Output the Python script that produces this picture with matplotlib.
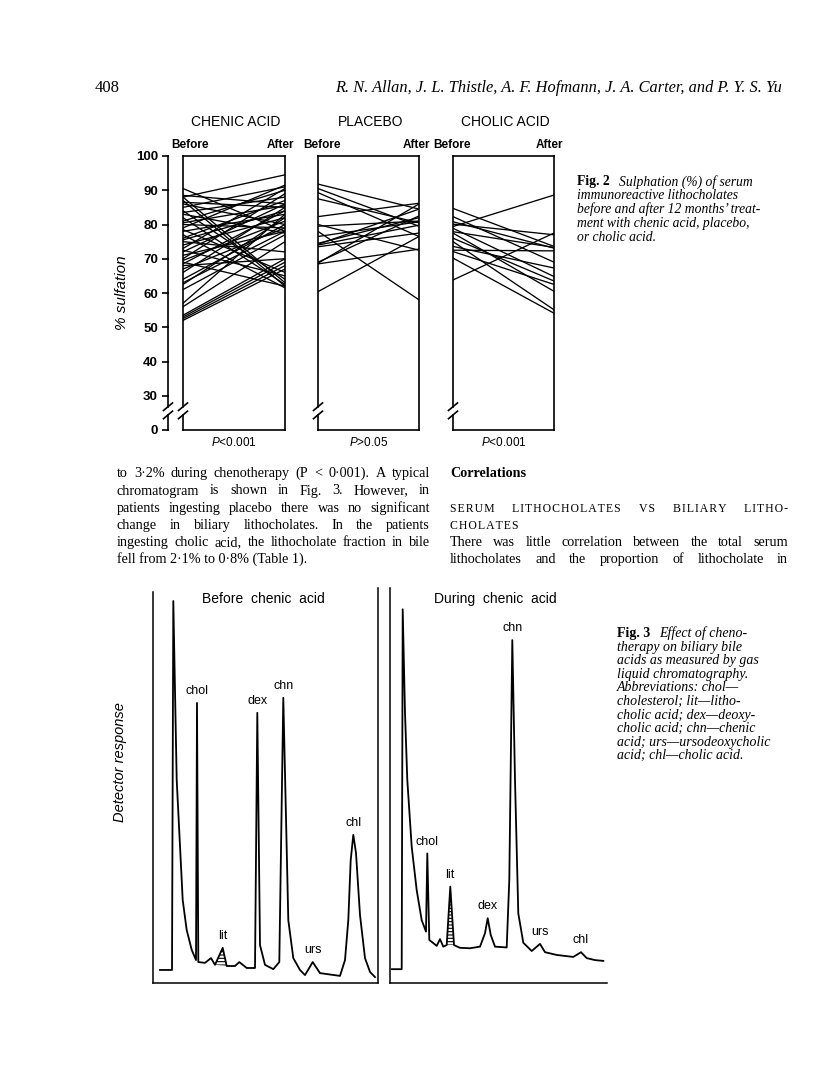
import matplotlib
matplotlib.use('Agg')
import matplotlib.pyplot as plt
import numpy as np

plt.rcParams['font.family'] = ['Liberation Sans', 'DejaVu Sans']
plt.rcParams['mathtext.fontset'] = 'custom'
plt.rcParams['mathtext.it'] = 'Liberation Sans:italic'
plt.rcParams['mathtext.rm'] = 'Liberation Sans'
plt.rcParams['hatch.linewidth'] = 0.8

SERIF = ['Liberation Serif', 'DejaVu Serif']
W, H = 816, 1086

# ---- Fig. 2 data: % sulfation before / after 12 months
groups = ['CHENIC ACID', 'PLACEBO', 'CHOLIC ACID']
p_values = [r'$\mathit{P}$<0.001', r'$\mathit{P}$>0.05', r'$\mathit{P}$<0.001']

chenic_before = [90.5, 88.5, 88, 88, 87, 86.5, 86, 85, 84, 83.5, 83, 82, 81, 80.5, 80,
                 79, 78.5, 78, 77, 76, 75.5, 75, 74, 73, 72.5, 72, 71, 70, 69.5, 69,
                 68.5, 68, 67, 66, 64, 63, 62.5, 61, 57, 56, 53.5, 53, 52.5, 52]
chenic_after = [78, 86, 94.5, 63, 62, 85, 80, 91, 64, 88, 77.5, 62.5, 90, 85.5, 79,
                91.5, 66, 83, 61.5, 87, 84, 72, 82, 90.5, 65, 86, 78, 89, 81, 62,
                84, 70, 79, 85, 80, 78, 82, 77, 83, 75, 70, 69, 68, 67]

placebo_before = [91.8, 90.5, 89.3, 87.5, 82.3, 80, 79.5, 78, 76.5, 74.5, 74.2, 74,
                  73.5, 69, 68.7, 68.5, 60.4]
placebo_after = [84.5, 79.5, 76.5, 80.5, 86.2, 72.5, 81, 58, 80.8, 82, 84.5, 79.8,
                 77.5, 82.5, 86, 72.8, 76.5]

cholic_before = [84.7, 82.3, 80.8, 80.1, 79.4, 78.9, 77.9, 77.5, 76, 75, 73.6, 72.5,
                 72.1, 70.2, 63.8]
cholic_after = [73.6, 69, 73.1, 77, 88.6, 64.8, 73.3, 60.5, 63.5, 55.1, 67.3, 72.3,
                62.5, 54.1, 77.5]

ytick_vals = [20, 30, 40, 50, 60, 70, 80, 90, 100]
ytick_labels = ['0', '30', '40', '50', '60', '70', '80', '90', '100']

# ---- Fig. 3 data: chromatogram traces (retention, detector response %)
before_t = [1.4, 3.8, 4.06, 4.74, 5.94, 6.74, 7.74, 8.6, 8.8, 9.06, 10.4, 11.6, 12.4,
            13.94, 14.74, 16.4, 17.26, 18.74, 20.4, 20.86, 21.4, 22.4, 24.06, 25.26,
            26.06, 27.06, 28.06, 29.4, 30.4, 31.94, 33.4, 37.4, 38.4, 39.06, 39.54,
            40.06, 40.6, 41.4, 42.4, 43.4, 44.4]
before_r = [3.3, 3.3, 96.7, 51.4, 21.0, 13.4, 8.4, 5.8, 70.9, 5.3, 5.1, 6.3, 4.6,
            8.9, 4.3, 4.3, 5.3, 3.8, 3.8, 68.4, 9.6, 4.6, 3.5, 5.3,
            72.2, 15.9, 6.3, 3.3, 2.0, 5.3, 2.5, 1.8, 5.8, 15.9, 31.1,
            37.5, 32.9, 17.2, 6.3, 2.8, 1.5]
before_peaks = ['chol', 'lit', 'dex', 'chn', 'urs', 'chl']
before_peak_t = [8.8, 13.94, 20.86, 26.06, 31.94, 40.06]

during_t = [0.34, 2.34, 2.54, 3.0, 3.46, 4.34, 5.34, 6.34, 7.2, 7.46, 7.86, 8.66, 9.34,
            10.0, 10.66, 11.34, 12.06, 12.8, 14.0, 16.0, 18.0, 19.0, 19.54, 20.14,
            21.0, 23.34, 23.86, 24.46, 25.0, 25.66, 26.66, 28.34, 30.0, 31.0, 33.34,
            36.66, 38.2, 39.34, 41.0, 42.66]
during_r = [3.5, 3.5, 94.6, 68.4, 51.4, 34.5, 23.5, 15.9, 13.0, 32.8, 10.9, 10.1, 9.4,
            11.1, 9.2, 9.6, 24.4, 9.6, 8.9, 8.8, 9.2, 12.6, 16.4, 12.2,
            9.2, 9.0, 26.1, 86.8, 51.4, 17.6, 10.2, 8.1, 9.9, 7.8, 7.1,
            6.6, 7.8, 6.3, 5.8, 5.6]
during_peaks = ['chol', 'lit', 'dex', 'chn', 'urs', 'chl']
during_peak_t = [7.46, 12.06, 19.54, 24.46, 30.0, 38.2]

fig = plt.figure(figsize=(W / 100, H / 100), dpi=100)
fig.patch.set_facecolor('white')
rend = fig.canvas.get_renderer()


def px_axes(x0, y0, x1, y1):
    return fig.add_axes([x0 / W, 1 - y1 / H, (x1 - x0) / W, (y1 - y0) / H])


def ptext(x, y, s, **kw):
    return fig.text(x / W, 1 - y / H, s, **kw)


def justify(words, x0, x1, yb, **kw):
    """Spread words of one line from x0 to x1 (pixels)."""
    ts = [fig.text(0, 1 - yb / H, w, va='baseline', **kw) for w in words]
    ws = [t.get_window_extent(rend).width for t in ts]
    gap = (x1 - x0 - sum(ws)) / max(len(words) - 1, 1)
    x = x0
    for t, w in zip(ts, ws):
        t.set_x(x / W)
        x += w + gap


def spaced(s):
    return '\u200a'.join(s)


def broken_edge(ax, xa, wpx):
    tr = ax.get_yaxis_transform()
    lo, hi = 24.4, 26.8
    kw = dict(transform=tr, color='black', lw=1.2, clip_on=False)
    ax.plot([xa, xa], [20, lo], **kw)
    ax.plot([xa, xa], [hi, 100], **kw)
    d = 4.5 / wpx
    for yb in (lo, hi):
        ax.plot([xa - d, xa + d], [yb - 1.1, yb + 1.1], **kw)


# ---------------- header
ptext(95, 88, '408', family=SERIF, fontsize=12, va='center')
ptext(782, 88, 'R. N. Allan, J. L. Thistle, A. F. Hofmann, J. A. Carter, and P. Y. S. Yu',
      family=SERIF, style='italic', fontsize=11.8, ha='right', va='center')

# ---------------- Fig. 2
panel_x = [(183, 285), (318, 419), (453, 554)]
before_left = [171, 303, 433]
after_right = [294, 430, 563]
series = [(chenic_before, chenic_after), (placebo_before, placebo_after),
          (cholic_before, cholic_after)]

for i, (name, (bef, aft), pv) in enumerate(zip(groups, series, p_values)):
    x0, x1 = panel_x[i]
    ax = px_axes(x0, 156, x1, 430)
    ax.set_xlim(0, 1)
    ax.set_ylim(20, 100)
    for b, a in zip(bef, aft):
        ax.plot([0, 1], [b, a], color='black', lw=0.95)
    ax.spines['left'].set_visible(False)
    for s in ['top', 'right', 'bottom']:
        ax.spines[s].set_linewidth(1.2)
    ax.set_xticks([])
    broken_edge(ax, 0, x1 - x0)
    if i == 0:
        ax.spines['left'].set_position(('outward', 15))
        ax.set_yticks(ytick_vals)
        ax.set_yticklabels(ytick_labels, fontsize=9.5, fontweight='bold')
        ax.tick_params(axis='y', direction='in', length=5, width=1.2, pad=3)
        broken_edge(ax, -15 / (x1 - x0), x1 - x0)
    else:
        ax.set_yticks([])
    cx = (x0 + x1) / 2
    ptext(cx + 2, 122, name, fontsize=10, ha='center', va='center')
    ptext(before_left[i], 145, 'Before', fontsize=8.5, fontweight='bold', va='center')
    ptext(after_right[i], 145, 'After', fontsize=8.5, fontweight='bold', ha='right', va='center')
    ptext(cx, 443, pv, fontsize=8.5, ha='center', va='center')

ptext(122, 293, '% sulfation', fontsize=11, style='italic', rotation=90,
      ha='center', va='center')

# Fig. 2 caption
cap2 = ['Sulphation (%) of serum', 'immunoreactive lithocholates',
        'before and after 12 months\u2019 treat-', 'ment with chenic acid, placebo,',
        'or cholic acid.']
t = ptext(577, 185.5, 'Fig. 2', family=SERIF, fontsize=9.8, fontweight='bold', va='baseline')
wb = t.get_window_extent(rend).width
ptext(577 + wb + 9, 185.5, cap2[0], family=SERIF, fontsize=9.8, style='italic', va='baseline')
for k, line in enumerate(cap2[1:], start=1):
    ptext(577, 185.5 + 13.9 * k, line, family=SERIF, fontsize=9.8, style='italic',
          va='baseline')

# ---------------- body text
body_kw = dict(family=SERIF, fontsize=10.2)
left_lines = ['to 3\u00b72% during chenotherapy (P < 0\u00b7001). A typical',
              'chromatogram is shown in Fig. 3. However, in',
              'patients ingesting placebo there was no significant',
              'change in biliary lithocholates. In the patients',
              'ingesting cholic acid, the lithocholate fraction in bile']
LX0, LX1, RX0, RX1 = 117, 430, 450, 788
base = [477, 494.5, 512, 529, 546, 563]
for k, line in enumerate(left_lines):
    justify(line.split(), LX0, LX1, base[k], **body_kw)
ptext(LX0, base[5], 'fell from 2\u00b71% to 0\u00b78% (Table 1).', va='baseline', **body_kw)

ptext(RX0, base[0], 'Correlations', va='baseline', fontweight='bold', **body_kw)
justify([spaced(w) for w in 'SERUM LITHOCHOLATES VS BILIARY LITHO-'.split()],
        RX0, RX1, base[2], family=SERIF, fontsize=8.5)
ptext(RX0, base[3], spaced('CHOLATES'), va='baseline', family=SERIF, fontsize=8.5)
justify('There was little correlation between the total serum'.split(),
        RX0, RX1, base[4], **body_kw)
justify('lithocholates and the proportion of lithocholate in'.split(),
        RX0, RX1, base[5], **body_kw)

# ---------------- Fig. 3 chromatograms
traces = [(before_t, before_r, before_peaks, before_peak_t, (153, 378), 45.0,
           'Before  chenic  acid', 263),
          (during_t, during_r, during_peaks, during_peak_t, (390, 607), 43.4,
           'During  chenic  acid', 495)]
for j, (tt, rr, names, pt, (x0, x1), tmax, title, tx) in enumerate(traces):
    ax = px_axes(x0, 588, x1, 983)
    ax.set_xlim(0, tmax)
    ax.set_ylim(0, 100)
    ax.plot(tt, rr, color='black', lw=1.3, solid_joinstyle='round')
    # hatched lithocholate peak
    k = tt.index(pt[1])
    ax.fill(tt[k - 1:k + 2], rr[k - 1:k + 2], facecolor='none', edgecolor='black',
            hatch='-----', lw=0)
    for nm, p in zip(names, pt):
        ax.text(p, np.interp(p, tt, rr) + 1.5, nm, fontsize=9, ha='center', va='bottom')
    ax.set_xticks([])
    ax.set_yticks([])
    ax.spines['top'].set_visible(False)
    if j == 0:
        ax.spines['left'].set_bounds(0, 99)
    else:
        ax.spines['right'].set_visible(False)
    for s in ax.spines.values():
        s.set_linewidth(1.1)
    ptext(tx, 599, title, fontsize=10, ha='center', va='center')

ptext(120, 762, 'Detector response', fontsize=10.5, style='italic', rotation=90,
      ha='center', va='center')

# Fig. 3 caption
cap3 = ['Effect of cheno-', 'therapy on biliary bile', 'acids as measured by gas',
        'liquid chromatography.', 'Abbreviations: chol\u2014',
        'cholesterol; lit\u2014litho-', 'cholic acid; dex\u2014deoxy-',
        'cholic acid; chn\u2014chenic', 'acid; urs\u2014ursodeoxycholic',
        'acid; chl\u2014cholic acid.']
t = ptext(617, 637, 'Fig. 3', family=SERIF, fontsize=10, fontweight='bold', va='baseline')
wb = t.get_window_extent(rend).width
ptext(617 + wb + 9, 637, cap3[0], family=SERIF, fontsize=10, style='italic', va='baseline')
for k, line in enumerate(cap3[1:], start=1):
    ptext(617, 637 + 13.6 * k, line, family=SERIF, fontsize=10, style='italic', va='baseline')

fig.savefig('out.png', dpi=100, facecolor='white')
